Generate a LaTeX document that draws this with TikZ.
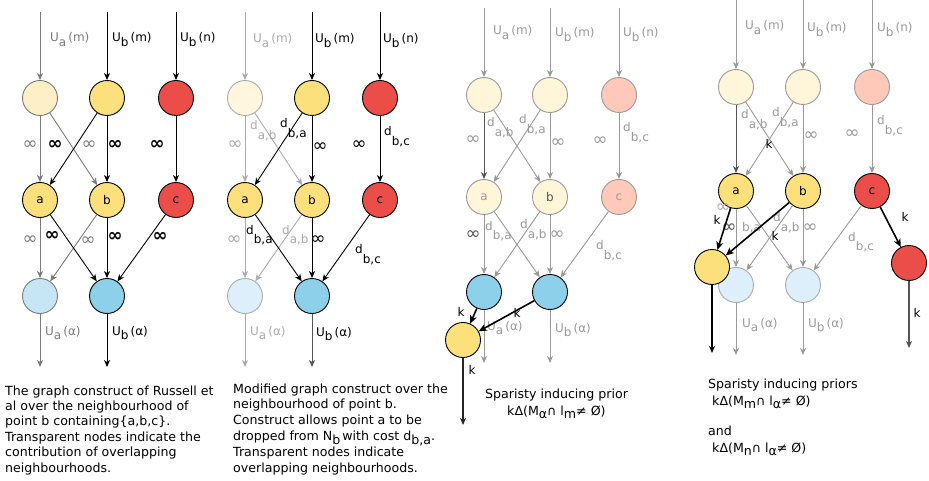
\documentclass[tikz,border=0pt]{standalone}
\usepackage{fontspec}
\setmainfont{DejaVu Sans}
\usetikzlibrary{arrows.meta}

% node fills
\definecolor{ylw}{HTML}{FBE07C}
\definecolor{ylwA}{HTML}{FEF0C6}
\definecolor{ylwB}{HTML}{FFF6DF}
\definecolor{ylwC}{HTML}{FFF5D9}
\definecolor{rd}{HTML}{EB4E49}
\definecolor{pnk}{HTML}{FFC9BA}
\definecolor{blu}{HTML}{8CD0EA}
\definecolor{bluA}{HTML}{C6E6F6}
\definecolor{bluB}{HTML}{DDEFFA}
% greys for faded parts
\definecolor{gA}{HTML}{7A7A7A}
\definecolor{gB}{HTML}{ABABAB}
\definecolor{gC}{HTML}{9A9A9A}
\definecolor{gD}{HTML}{555555}

% lowered subscript in the text font
\newcommand{\lsub}[2][0.4em]{\raisebox{-#1}{#2}}
\newcommand{\dsub}[1]{d\lsub[0.8em]{#1}}
\newcommand{\Ulab}[2]{U\lsub{#1}\,(#2)}
% the infinity sign, enlarged
\newcommand{\infs}{{\fontsize{18}{18}\selectfont ∞}}

\tikzset{
  x=1pt, y=-1pt,
  nd/.style={circle, minimum size=35pt, inner sep=0pt, line width=0.9pt,
             font=\fontsize{12}{14}\selectfont},
  arr/.style={-{Stealth[length=7pt,width=6pt,inset=2pt]}, line width=0.9pt},
  kar/.style={-{Stealth[length=8pt,width=7pt,inset=2pt]}, line width=1.6pt},
  lab/.style={inner sep=0pt, font=\fontsize{12}{14}\selectfont},
  blab/.style={lab, font=\fontsize{12}{14}\selectfont\bfseries},
  bw/.style={lab, anchor=base west},
  captxt/.style={inner sep=0pt, anchor=base west, font=\fontsize{12.6}{15.6}\selectfont},
}

\begin{document}
\begin{tikzpicture}
\fill[white] (0,0) rectangle (929,481);
\useasboundingbox (0,0) rectangle (929,481);

% ================= panel 1: original construct =================
\coordinate (p1i1) at (40,12);
\coordinate (p1i2) at (107,12);
\coordinate (p1i3) at (176,12);
\coordinate (p1o1) at (40,367);
\coordinate (p1o2) at (107,367);
\node[nd, fill=ylwA, draw=gA] (p1t1) at (40,98) {};
\node[nd, fill=ylw, draw=black] (p1t2) at (107,98) {};
\node[nd, fill=rd, draw=black] (p1t3) at (176,98) {};
\node[nd, fill=ylw, draw=black] (p1a) at (40,200) {a};
\node[nd, fill=ylw, draw=black] (p1b) at (107,200) {b};
\node[nd, fill=rd, draw=black] (p1c) at (176,200) {c};
\node[nd, fill=bluA, draw=gA] (p1la) at (40,296) {};
\node[nd, fill=blu, draw=black] (p1lb) at (107,296) {};

\draw[arr, gA] (p1i1) -- (p1t1);
\draw[arr] (p1i2) -- (p1t2);
\draw[arr] (p1i3) -- (p1t3);
\draw[arr, gA] (p1t1) -- (p1a);
\draw[arr, gA] (p1t1) -- (p1b);
\draw[arr] (p1t2) -- (p1a);
\draw[arr] (p1t2) -- (p1b);
\draw[arr] (p1t3) -- (p1c);
\draw[arr, gA] (p1a) -- (p1la);
\draw[arr, gA] (p1b) -- (p1la);
\draw[arr] (p1a) -- (p1lb);
\draw[arr] (p1b) -- (p1lb);
\draw[arr] (p1c) -- (p1lb);
\draw[arr, gA] (p1la) -- (p1o1);
\draw[arr] (p1lb) -- (p1o2);

\node[bw, text=gA] (p1u1) at (50,42) {\Ulab{a}{m}};
\node[bw] (p1u2) at (112,42) {\Ulab{b}{m}};
\node[bw] (p1u3) at (180,42) {\Ulab{b}{n}};
\node[lab, text=gA] (p1e1) at (30,145) {\infs};
\node[blab] (p1e2) at (55,145) {\infs};
\node[lab, text=gA] (p1e3) at (89,145) {\infs};
\node[blab] (p1e4) at (115,145) {\infs};
\node[blab] (p1e5) at (157,145) {\infs};
\node[lab, text=gA] (p1f1) at (30,240) {\infs};
\node[blab] (p1f2) at (52,236) {\infs};
\node[lab, text=gA] (p1f3) at (88,241) {\infs};
\node[blab] (p1f4) at (115,237) {\infs};
\node[blab] (p1f5) at (160,237) {\infs};
\node[bw, text=gA] (p1v1) at (45,335) {\Ulab{a}{α}};
\node[bw] (p1v2) at (112,335) {\Ulab{b}{α}};

\node[captxt] (p1c1) at (5,395) {The graph construct of Russell et};
\node[captxt] (p1c2) at (5,410.4) {al over the neighbourhood of};
\node[captxt] (p1c3) at (5,425.8) {point b containing\{a,b,c\}.};
\node[captxt] (p1c4) at (5,441.2) {Transparent nodes indicate the};
\node[captxt] (p1c5) at (5,456.6) {contribution of overlapping};
\node[captxt] (p1c6) at (5,472) {neighbourhoods.};

% ================= panel 2: modified construct =================
\coordinate (p2i1) at (245,12);
\coordinate (p2i2) at (312,12);
\coordinate (p2i3) at (380,12);
\coordinate (p2o1) at (245,367);
\coordinate (p2o2) at (312,367);
\node[nd, fill=ylwB, draw=gB] (p2t1) at (245,98) {};
\node[nd, fill=ylw, draw=black] (p2t2) at (312,98) {};
\node[nd, fill=rd, draw=black] (p2t3) at (380,98) {};
\node[nd, fill=ylw, draw=black] (p2a) at (245,200) {a};
\node[nd, fill=ylw, draw=black] (p2b) at (312,200) {b};
\node[nd, fill=rd, draw=black] (p2c) at (380,200) {c};
\node[nd, fill=bluB, draw=gB] (p2la) at (245,296) {};
\node[nd, fill=blu, draw=black] (p2lb) at (312,296) {};

\draw[arr, gB] (p2i1) -- (p2t1);
\draw[arr] (p2i2) -- (p2t2);
\draw[arr] (p2i3) -- (p2t3);
\draw[arr, gB] (p2t1) -- (p2a);
\draw[arr, gB] (p2t1) -- (p2b);
\draw[arr] (p2t2) -- (p2a);
\draw[arr] (p2t2) -- (p2b);
\draw[arr] (p2t3) -- (p2c);
\draw[arr, gB] (p2a) -- (p2la);
\draw[arr, gB] (p2b) -- (p2la);
\draw[arr] (p2a) -- (p2lb);
\draw[arr] (p2b) -- (p2lb);
\draw[arr] (p2c) -- (p2lb);
\draw[arr, gB] (p2la) -- (p2o1);
\draw[arr, gD] (p2lb) -- (p2o2);

\node[bw, text=gB] (p2u1) at (253,43) {\Ulab{a}{m}};
\node[bw] (p2u2) at (315,43) {\Ulab{b}{m}};
\node[bw] (p2u3) at (383,43) {\Ulab{b}{n}};
\node[lab, text=gB] (p2e1) at (235,145) {\infs};
\node[bw, text=gB] (p2e2) at (250,130) {\dsub{a,b}};
\node[bw] (p2e3) at (280,128) {\dsub{b,a}};
\node[lab] (p2e4) at (320,147) {\infs};
\node[lab] (p2e5) at (359,145) {\infs};
\node[bw] (p2e6) at (384,136) {\dsub{b,c}};
\node[lab, text=gB] (p2f1) at (234,240) {\infs};
\node[bw] (p2f2) at (246,234) {\dsub{b,a}};
\node[bw, text=gB] (p2f3) at (282,234) {\dsub{a,b}};
\node[lab] (p2f4) at (318,240) {\infs};
\node[bw] (p2f5) at (355,254) {\dsub{b,c}};
\node[bw, text=gB] (p2v1) at (250,335) {\Ulab{a}{α}};
\node[bw] (p2v2) at (316,336) {\Ulab{b}{α}};

\node[captxt] (p2c1) at (233,393) {Modified graph construct over the};
\node[captxt] (p2c2) at (233,408.8) {neighbourhood of point b.};
\node[captxt] (p2c3) at (233,424.6) {Construct allows point a to be};
\node[captxt] (p2c4) at (233,440.4) {dropped from N\lsub[0.3em]{b}\,with cost d\lsub[0.3em]{b,a}.};
\node[captxt] (p2c5) at (233,456.2) {Transparent nodes indicate};
\node[captxt] (p2c6) at (233,472) {overlapping neighbourhoods.};

% ================= panel 3: one sparsity prior =================
\coordinate (p3i1) at (484,8);
\coordinate (p3i2) at (550,8);
\coordinate (p3i3) at (619,8);
\coordinate (p3o1) at (484,363);
\coordinate (p3o2) at (550,363);
\coordinate (p3o3) at (463,425);
\node[nd, fill=ylwC, draw=gC] (p3t1) at (484,95) {};
\node[nd, fill=ylwC, draw=gC] (p3t2) at (550,95) {};
\node[nd, fill=pnk, draw=gC] (p3t3) at (619,95) {};
\node[nd, fill=ylwC, draw=gC, text=gC] (p3a) at (484,197) {a};
\node[nd, fill=ylwC, draw=gC, text=gD] (p3b) at (550,197) {b};
\node[nd, fill=pnk, draw=gC, text=gC] (p3c) at (619,197) {c};
\node[nd, fill=blu, draw=black] (p3la) at (484,292) {};
\node[nd, fill=blu, draw=black] (p3lb) at (550,292) {};
\node[nd, fill=ylw, draw=black] (p3y) at (463,340) {};

\draw[arr, gC] (p3i1) -- (p3t1);
\draw[arr, gC] (p3i2) -- (p3t2);
\draw[arr, gC] (p3i3) -- (p3t3);
\draw[arr, gD] (p3t1) -- (p3a);
\draw[arr, gC] (p3t1) -- (p3b);
\draw[arr, gC] (p3t2) -- (p3a);
\draw[arr, gC] (p3t2) -- (p3b);
\draw[arr, gC] (p3t3) -- (p3c);
\draw[arr, gC] (p3a) -- (p3la);
\draw[arr, gC] (p3b) -- (p3la);
\draw[arr, gC] (p3a) -- (p3lb);
\draw[arr, gC] (p3b) -- (p3lb);
\draw[arr, gC] (p3c) -- (p3lb);
\draw[arr, gC] (p3la) -- (p3o1);
\draw[arr, gC] (p3lb) -- (p3o2);

\node[bw, text=gC] (p3u1) at (493,35) {\Ulab{a}{m}};
\node[bw, text=gC] (p3u2) at (555,37) {\Ulab{b}{m}};
\node[bw, text=gC] (p3u3) at (623,37) {\Ulab{b}{n}};
\node[lab, text=gC] (p3e1) at (473,140) {\infs};
\node[bw, text=gC] (p3e2) at (487,127) {\dsub{a,b}};
\node[bw, text=gC] (p3e3) at (519,124) {\dsub{b,a}};
\node[lab, text=gC] (p3e4) at (558,143) {\infs};
\node[lab, text=gC] (p3e5) at (600,141) {\infs};
\node[bw, text=gC] (p3e6) at (623,132) {\dsub{b,c}};
\node[lab, text=gD] (p3f1) at (473,235) {\infs};
\node[bw, text=gC] (p3f2) at (485,230) {\dsub{b,a}};
\node[bw, text=gC] (p3f3) at (520,229) {\dsub{a,b}};
\node[lab, text=gC] (p3f4) at (557,235) {\infs};
\node[bw, text=gC] (p3f5) at (596,250) {\dsub{b,c}};
\node[bw, text=gC] (p3v1) at (487,330) {\Ulab{a}{α}};
\node[bw, text=gC] (p3v2) at (555,332) {\Ulab{b}{α}};

\draw[kar] (p3la) -- (p3y);
\draw[kar] (p3lb) -- (p3y);
\draw[arr, line width=1.2pt, black!85] (p3y) -- (p3o3);
\node[lab] (p3k1) at (461,312) {k};
\node[lab] (p3k2) at (517,313) {k};
\node[lab] (p3k3) at (472,370) {k};

\node[captxt] (p3c1) at (485,398) {Sparisty inducing prior};
\node[captxt] (p3c2) at (507,415) {kΔ(M\lsub[0.3em]{α}∩ l\lsub[0.3em]{m}≠ Ø)};

% ================= panel 4: two sparsity priors =================
\coordinate (p4i1) at (736,0);
\coordinate (p4i2) at (803,0);
\coordinate (p4i3) at (872,0);
\coordinate (p4o1) at (736,355);
\coordinate (p4o2) at (803,355);
\coordinate (p4o3) at (712,353);
\coordinate (p4o4) at (909,348);
\node[nd, fill=ylwC, draw=gC] (p4t1) at (736,87) {};
\node[nd, fill=ylwC, draw=gC] (p4t2) at (803,87) {};
\node[nd, fill=pnk, draw=gC] (p4t3) at (872,87) {};
\node[nd, fill=ylw, draw=black] (p4a) at (736,191) {a};
\node[nd, fill=ylw, draw=black] (p4b) at (803,191) {b};
\node[nd, fill=rd, draw=black] (p4c) at (872,191) {c};
\node[nd, fill=bluB, draw=gB] (p4la) at (736,285) {};
\node[nd, fill=bluB, draw=gB] (p4lb) at (803,285) {};

\draw[arr, gC] (p4i1) -- (p4t1);
\draw[arr, gC] (p4i2) -- (p4t2);
\draw[arr, gC] (p4i3) -- (p4t3);
\draw[arr, gD] (p4t1) -- (p4a);
\draw[arr, gC] (p4t1) -- (p4b);
\draw[arr, gC] (p4t2) -- (p4a);
\draw[arr, gC] (p4t2) -- (p4b);
\draw[arr, gC] (p4t3) -- (p4c);
\draw[arr, gC] (p4a) -- (p4la);
\draw[arr, gC] (p4b) -- (p4la);
\draw[arr, gC] (p4a) -- (p4lb);
\draw[arr, gC] (p4b) -- (p4lb);
\draw[arr, gC] (p4c) -- (p4lb);
\draw[arr, gC] (p4la) -- (p4o1);
\draw[arr, gC] (p4lb) -- (p4o2);

\node[bw, text=gC] (p4u1) at (745,30) {\Ulab{a}{m}};
\node[bw, text=gC] (p4u2) at (807,32) {\Ulab{b}{m}};
\node[bw, text=gC] (p4u3) at (877,32) {\Ulab{b}{n}};
\node[bw, text=gC] (p4e1) at (741,119) {\dsub{a,b}};
\node[bw, text=gC] (p4e2) at (772,117) {\dsub{b,a}};
\node[lab, text=gC] (p4e3) at (811,136) {\infs};
\node[lab, text=gC] (p4e4) at (852,134) {\infs};
\node[bw, text=gC] (p4e5) at (877,125) {\dsub{b,c}};
\node[lab, text=gB] (p4f1) at (723,208) {\infs};
\node[lab, text=gD] (p4f2) at (729,228) {\infs};
\node[bw, text=gC] (p4f3) at (742,232) {b,a};
\node[bw, text=gC] (p4f4) at (773,222) {\dsub{a,b}};
\node[lab, text=gC] (p4f5) at (810,228) {\infs};
\node[bw, text=gC] (p4f6) at (848,241) {\dsub{b,c}};
\node[bw, text=gC] (p4v1) at (742,327) {\Ulab{a}{α}};
\node[bw, text=gC] (p4v2) at (808,327) {\Ulab{b}{α}};

\node[nd, fill=ylw, draw=black] (p4y) at (712,267) {};
\node[nd, fill=rd, draw=black] (p4r) at (909,263) {};
\draw[kar] (p4a) -- (p4y);
\draw[kar] (p4b) -- (p4y);
\draw[kar] (p4c) -- (p4r);
\draw[arr, line width=1.1pt] (p4y) -- (p4o3);
\draw[arr, line width=1.3pt, gD] (p4r) -- (p4o4);
\node[lab] (p4k1) at (769,144) {k};
\node[lab] (p4k2) at (717,220) {k};
\node[lab] (p4k3) at (775,236) {k};
\node[lab] (p4k4) at (905,217) {k};
\node[lab] (p4k5) at (917,313) {k};

\node[captxt] (p4c1) at (708,388) {Sparisty inducing priors};
\node[captxt] (p4c2) at (712,405) {kΔ(M\lsub[0.3em]{m}∩ l\lsub[0.3em]{α}≠ Ø)};
\node[captxt] (p4c3) at (708,435) {and};
\node[captxt] (p4c4) at (712,452) {kΔ(M\lsub[0.3em]{n}∩ l\lsub[0.3em]{α}≠ Ø)};
\end{tikzpicture}
\end{document}
